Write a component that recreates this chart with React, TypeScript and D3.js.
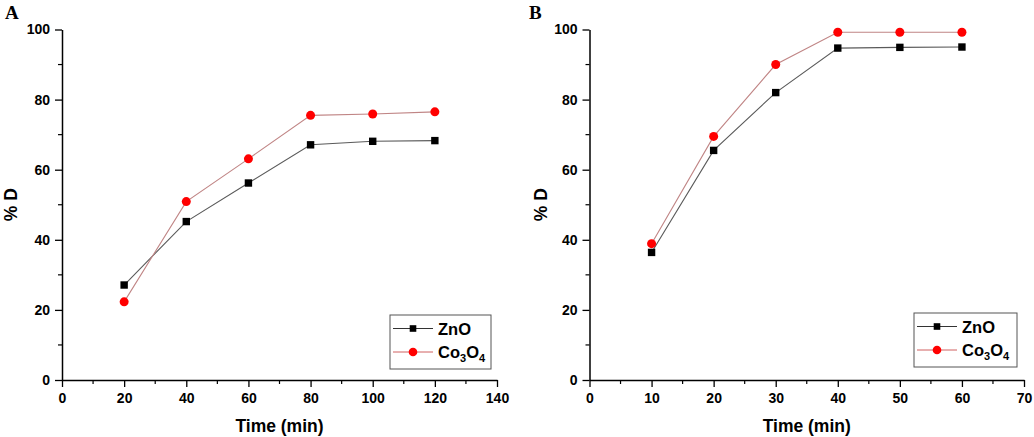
import { useRef, useEffect } from 'react'
import * as d3 from 'd3'

// Panel A: degradation vs time (0-120 min)
const timeA = [20, 40, 60, 80, 100, 120]
const znoA = [27.1, 45.2, 56.2, 67.1, 68.1, 68.3]
const coA = [22.3, 50.9, 63.1, 75.5, 75.9, 76.5]

// Panel B: degradation vs time (0-60 min)
const timeB = [10, 20, 30, 40, 50, 60]
const znoB = [36.4, 65.5, 82.0, 94.7, 94.9, 95.0]
const coB = [38.9, 69.5, 90.0, 99.2, 99.2, 99.2]

const yTicks = [0, 20, 40, 60, 80, 100]
const xTicksA = [0, 20, 40, 60, 80, 100, 120, 140]
const xTicksB = [0, 10, 20, 30, 40, 50, 60, 70]

const W = 1034
const H = 437
const FONT = '"Liberation Sans", Arial, sans-serif'
const ZNO_LINE = '#5a5a5a'
const CO_LINE = '#c08585'
const CO_FILL = '#ff0000'

interface PanelCfg {
  letter: string
  letterX: number
  x0: number
  x1: number
  xMax: number
  xTicks: number[]
  time: number[]
  zno: number[]
  co: number[]
  yTitleX: number
  legend: { x: number; y: number; w: number; h: number }
}

const panels: PanelCfg[] = [
  {
    letter: 'A', letterX: 5, x0: 62, x1: 497, xMax: 140, xTicks: xTicksA,
    time: timeA, zno: znoA, co: coA, yTitleX: 17,
    legend: { x: 390, y: 315, w: 101, h: 54 },
  },
  {
    letter: 'B', letterX: 529, x0: 589.5, x1: 1024, xMax: 70, xTicks: xTicksB,
    time: timeB, zno: znoB, co: coB, yTitleX: 547,
    legend: { x: 914, y: 313, w: 103, h: 54 },
  },
]

export default function App() {
  const svgRef = useRef<SVGSVGElement>(null)

  useEffect(() => {
    if (!svgRef.current) return
    const svg = d3.select(svgRef.current)
    svg.selectAll('*').remove()

    const yTop = 29.5
    const yBot = 380

    panels.forEach((p) => {
      const g = svg.append('g')
      const x = d3.scaleLinear().domain([0, p.xMax]).range([p.x0, p.x1])
      const y = d3.scaleLinear().domain([0, 100]).range([yBot, yTop])

      // panel letter
      g.append('text')
        .attr('x', p.letterX)
        .attr('y', 19)
        .attr('font-family', '"Liberation Serif", "Times New Roman", serif')
        .attr('font-weight', 'bold')
        .attr('font-size', 19)
        .text(p.letter)

      // minor ticks
      const yMinor = d3.range(10, 100, 20)
      g.selectAll('.ym')
        .data(yMinor)
        .join('line')
        .attr('x1', p.x0 - 4)
        .attr('x2', p.x0)
        .attr('y1', (d) => y(d))
        .attr('y2', (d) => y(d))
        .attr('stroke', '#000')
        .attr('stroke-width', 1.2)
      const step = p.xTicks[1] - p.xTicks[0]
      const xMinor = d3.range(step / 2, p.xMax, step)
      g.selectAll('.xm')
        .data(xMinor)
        .join('line')
        .attr('x1', (d) => x(d))
        .attr('x2', (d) => x(d))
        .attr('y1', yBot)
        .attr('y2', yBot + 4)
        .attr('stroke', '#000')
        .attr('stroke-width', 1.2)

      // y axis
      const ya = g.append('g')
        .attr('transform', `translate(${p.x0},0)`)
        .call(d3.axisLeft(y).tickValues(yTicks).tickSize(7).tickPadding(5).tickSizeOuter(0))
      // x axis
      const xa = g.append('g')
        .attr('transform', `translate(0,${yBot})`)
        .call(d3.axisBottom(x).tickValues(p.xTicks).tickSize(7).tickPadding(6).tickSizeOuter(0))
      ;[ya, xa].forEach((a) => {
        a.attr('font-family', FONT).attr('font-size', 14)
        a.select('.domain').attr('stroke', '#000').attr('stroke-width', 1.5)
        a.selectAll('.tick line').attr('stroke', '#000').attr('stroke-width', 1.3)
        a.selectAll('.tick text')
          .attr('fill', '#000')
          .attr('font-family', FONT)
          .attr('font-weight', 'bold')
          .attr('font-size', 14)
      })

      // axis titles
      g.append('text')
        .attr('x', (p.x0 + p.x1) / 2)
        .attr('y', 432)
        .attr('text-anchor', 'middle')
        .attr('font-family', FONT)
        .attr('font-weight', 'bold')
        .attr('font-size', 17.5)
        .text('Time (min)')
      g.append('text')
        .attr('transform', `translate(${p.yTitleX},${(yTop + yBot) / 2}) rotate(-90)`)
        .attr('text-anchor', 'middle')
        .attr('font-family', FONT)
        .attr('font-weight', 'bold')
        .attr('font-size', 17.5)
        .text('% D')

      // series
      const line = d3.line<number>()
        .x((_, i) => x(p.time[i]))
        .y((d) => y(d))

      g.append('path').datum(p.zno).attr('d', line)
        .attr('fill', 'none').attr('stroke', ZNO_LINE).attr('stroke-width', 1.1)
      g.append('path').datum(p.co).attr('d', line)
        .attr('fill', 'none').attr('stroke', CO_LINE).attr('stroke-width', 1.1)

      g.selectAll('.sq')
        .data(p.zno)
        .join('rect')
        .attr('x', (_, i) => x(p.time[i]) - 3.7)
        .attr('y', (d) => y(d) - 3.7)
        .attr('width', 7.4)
        .attr('height', 7.4)
        .attr('fill', '#000')
      g.selectAll('.ci')
        .data(p.co)
        .join('circle')
        .attr('cx', (_, i) => x(p.time[i]))
        .attr('cy', (d) => y(d))
        .attr('r', 4.5)
        .attr('fill', CO_FILL)

      // legend
      const L = p.legend
      const lg = g.append('g').attr('transform', `translate(${L.x},${L.y})`)
      lg.append('rect')
        .attr('width', L.w)
        .attr('height', L.h)
        .attr('fill', '#fff')
        .attr('stroke', '#555')
        .attr('stroke-width', 1)
      const rows = [
        { name: 'ZnO', dy: 13.5 },
        { name: 'Co3O4', dy: 37 },
      ]
      rows.forEach((r, i) => {
        lg.append('line')
          .attr('x1', 3).attr('x2', 43)
          .attr('y1', r.dy).attr('y2', r.dy)
          .attr('stroke', i === 0 ? '#333' : '#d06060')
          .attr('stroke-width', 1)
        if (i === 0) {
          lg.append('rect').attr('x', 23 - 3.3).attr('y', r.dy - 3.3)
            .attr('width', 6.6).attr('height', 6.6).attr('fill', '#000')
        } else {
          lg.append('circle').attr('cx', 23).attr('cy', r.dy).attr('r', 4.3).attr('fill', CO_FILL)
        }
        const t = lg.append('text')
          .attr('x', 48)
          .attr('y', r.dy + 6)
          .attr('font-family', FONT)
          .attr('font-weight', 'bold')
          .attr('font-size', 16.5)
        if (i === 0) {
          t.text('ZnO')
        } else {
          t.append('tspan').text('Co')
          t.append('tspan').attr('font-size', 11).attr('dy', 4).text('3')
          t.append('tspan').attr('dy', -4).text('O')
          t.append('tspan').attr('font-size', 11).attr('dy', 4).text('4')
        }
      })
    })
  }, [])

  return (
    <div style={{ position: 'fixed', left: 0, top: 0, width: W, height: H, background: '#fff' }}>
      <svg ref={svgRef} width={W} height={H} style={{ display: 'block' }} />
    </div>
  )
}
